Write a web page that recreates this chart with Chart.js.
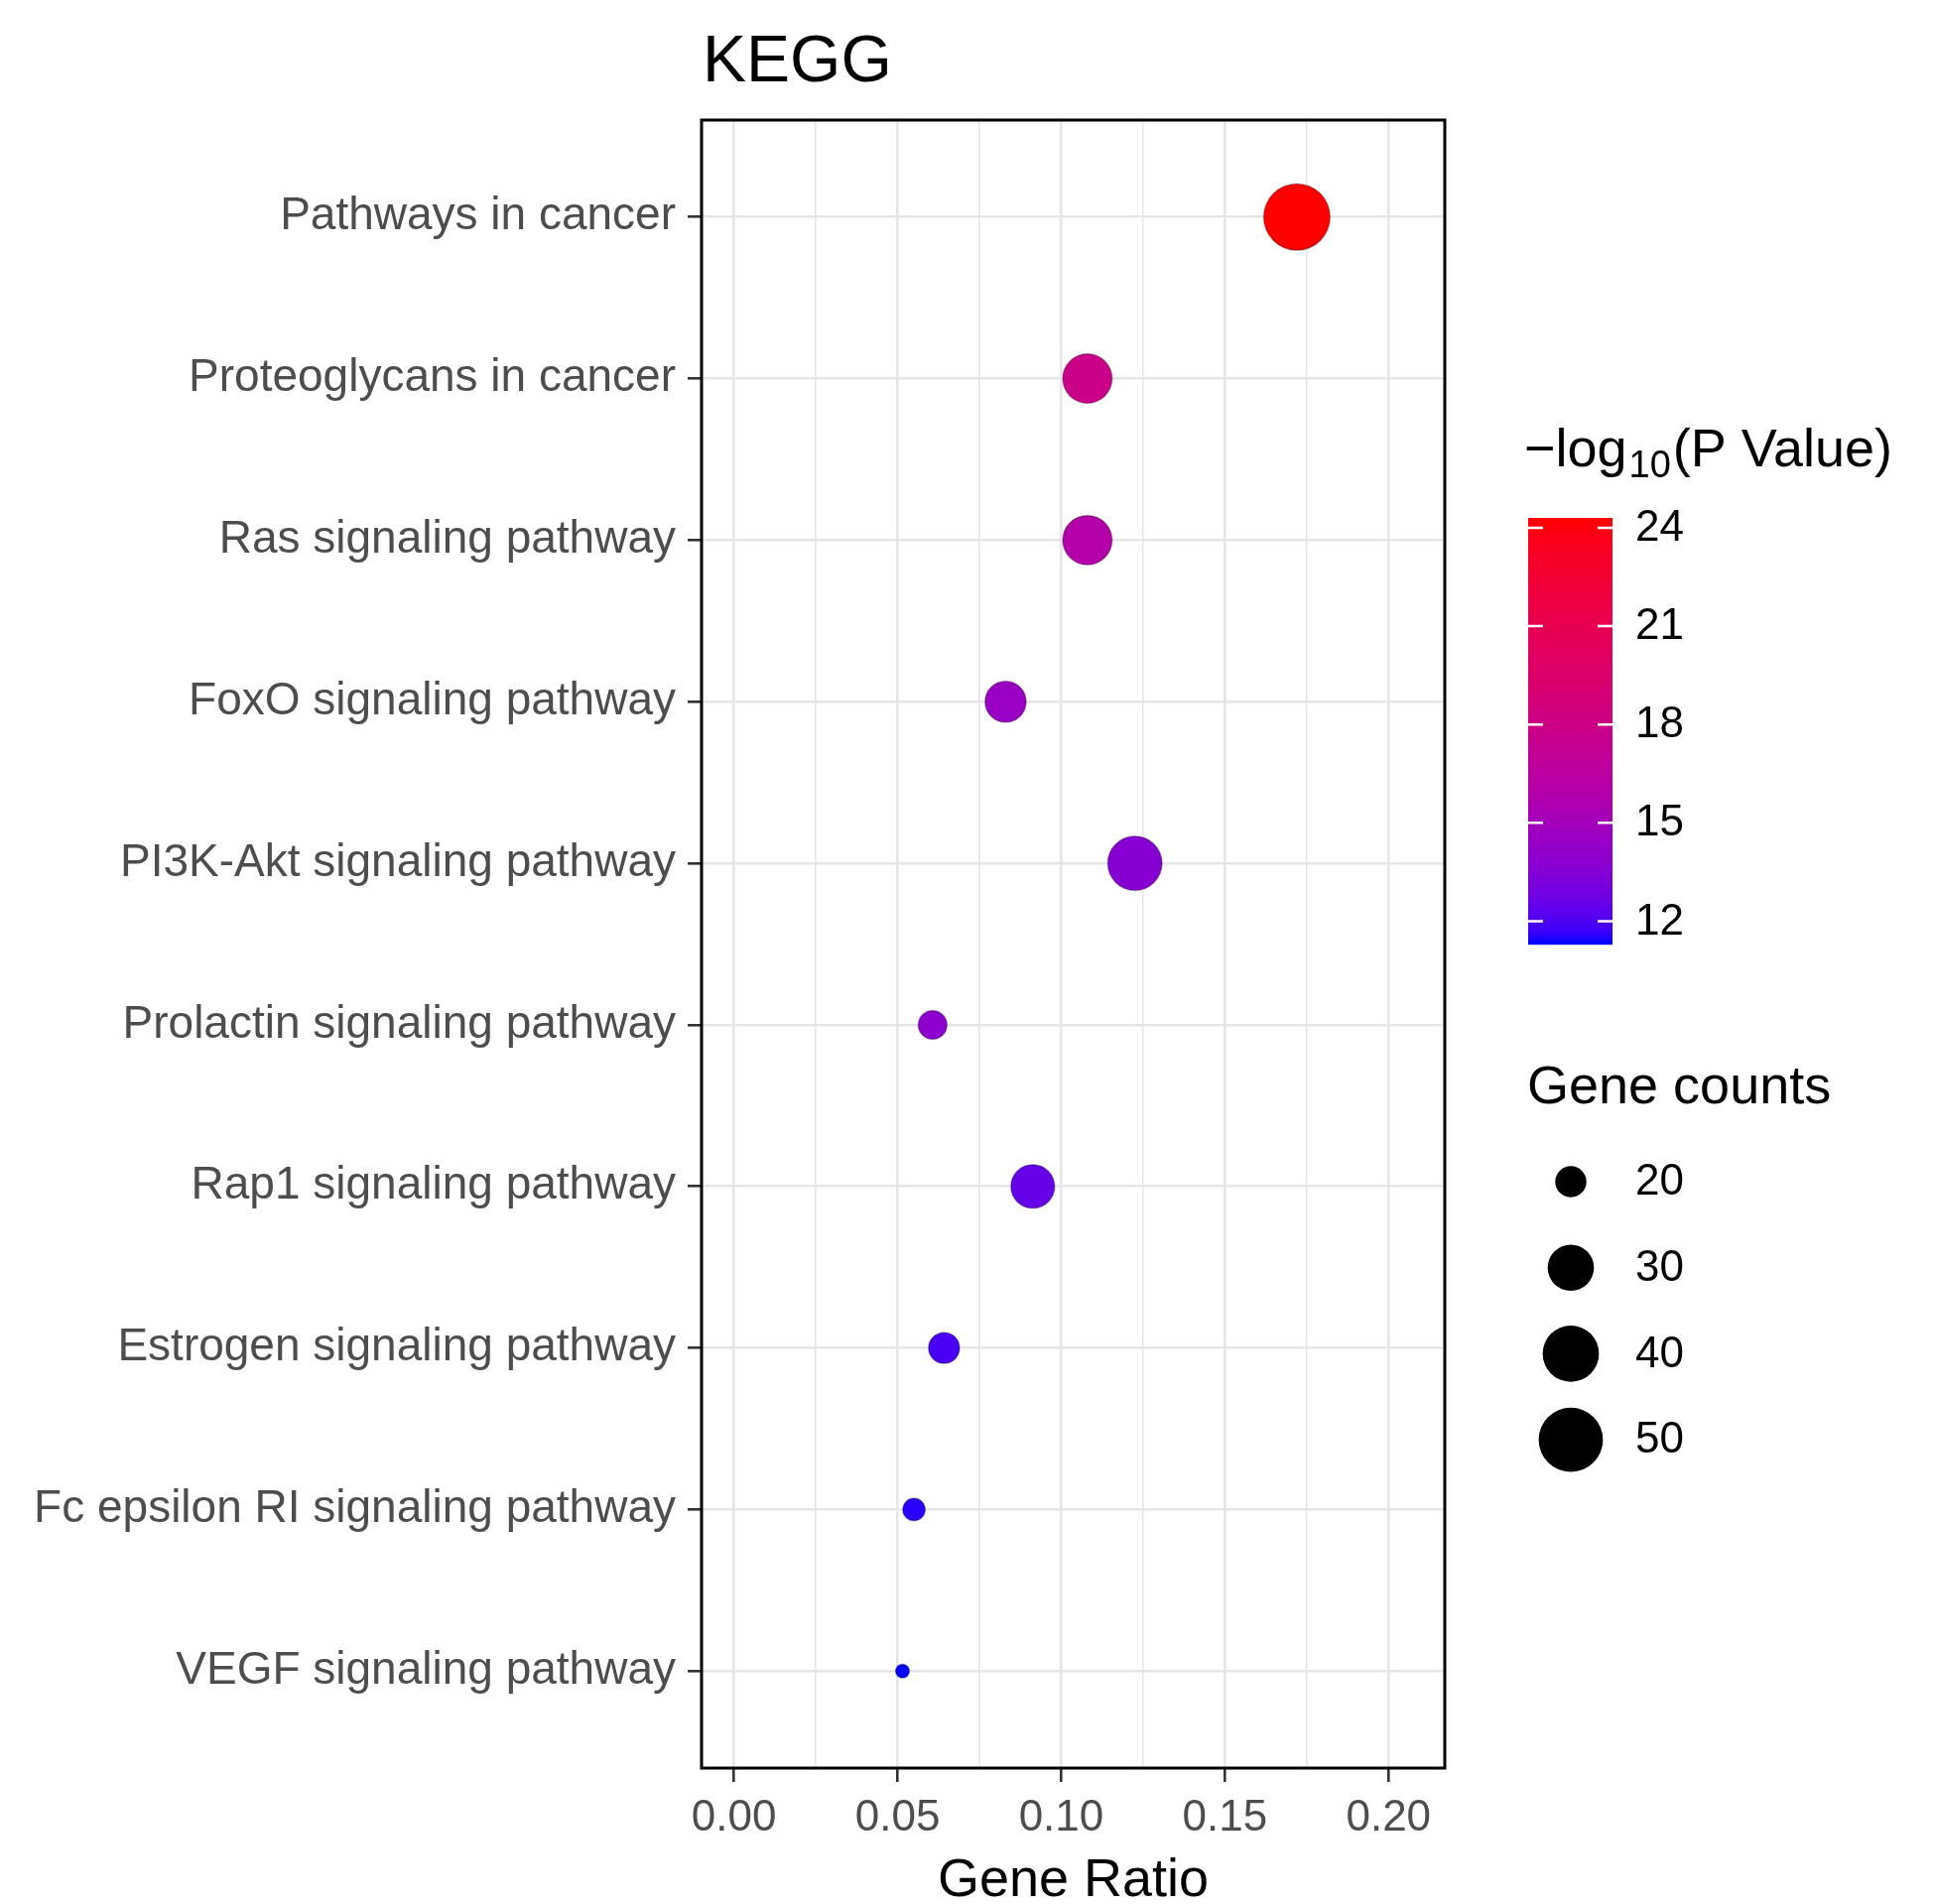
<!DOCTYPE html>
<html lang="en">
<head>
<meta charset="UTF-8">
<title>KEGG</title>
<script src="https://cdn.jsdelivr.net/npm/chart.js@4.4.1/dist/chart.umd.min.js"></script>
<style>
  body { margin: 0; background: #fff; }
  canvas { display: block; }
</style>
</head>
<body>
<canvas id="kegg" width="1949" height="1919"></canvas>
<script>
// pathways, listed top to bottom
const pathways = [
  'Pathways in cancer',
  'Proteoglycans in cancer',
  'Ras signaling pathway',
  'FoxO signaling pathway',
  'PI3K-Akt signaling pathway',
  'Prolactin signaling pathway',
  'Rap1 signaling pathway',
  'Estrogen signaling pathway',
  'Fc epsilon RI signaling pathway',
  'VEGF signaling pathway'
];
const geneRatio  = [0.172, 0.108, 0.108, 0.083, 0.1225, 0.0607, 0.0913, 0.0642, 0.055, 0.0515];
const geneCounts = [53, 33, 33, 26, 38, 19, 28, 20, 17, 16];
const logP       = [24.3, 17.8, 16.0, 14.5, 13.6, 13.9, 12.5, 11.9, 11.5, 11.28];

const ratioTicks = [0, 0.05, 0.10, 0.15, 0.20];
const colorTicks = [12, 15, 18, 21, 24];
const sizeBreaks = [20, 30, 40, 50];

const FONT = '"Liberation Sans", Arial, Helvetica, sans-serif';

// colour scale: blue -> red, interpolated in Lab like ggplot does
function toLab([r, g, b]) {
  const lin = c => { c /= 255; return c <= 0.04045 ? c / 12.92 : Math.pow((c + 0.055) / 1.055, 2.4); };
  const R = lin(r), G = lin(g), B = lin(b);
  const X = (0.4124 * R + 0.3576 * G + 0.1805 * B) / 0.95047;
  const Y = 0.2126 * R + 0.7152 * G + 0.0722 * B;
  const Z = (0.0193 * R + 0.1192 * G + 0.9505 * B) / 1.08883;
  const f = t => t > 0.008856 ? Math.cbrt(t) : 7.787 * t + 16 / 116;
  return [116 * f(Y) - 16, 500 * (f(X) - f(Y)), 200 * (f(Y) - f(Z))];
}
function fromLab([L, a, bb]) {
  const fy = (L + 16) / 116, fx = fy + a / 500, fz = fy - bb / 200;
  const inv = t => t * t * t > 0.008856 ? t * t * t : (t - 16 / 116) / 7.787;
  const X = inv(fx) * 0.95047, Y = inv(fy), Z = inv(fz) * 1.08883;
  const R = 3.2406 * X - 1.5372 * Y - 0.4986 * Z;
  const G = -0.9689 * X + 1.8758 * Y + 0.0415 * Z;
  const B = 0.0557 * X - 0.2040 * Y + 1.0570 * Z;
  const gam = c => {
    c = Math.max(0, Math.min(1, c));
    return Math.round(255 * (c <= 0.0031308 ? 12.92 * c : 1.055 * Math.pow(c, 1 / 2.4) - 0.055));
  };
  return 'rgb(' + gam(R) + ',' + gam(G) + ',' + gam(B) + ')';
}
const LOW = toLab([0, 0, 255]);
const HIGH = toLab([255, 0, 0]);
const pMin = Math.min(...logP), pMax = Math.max(...logP);
function colourFor(v) {
  const t = (v - pMin) / (pMax - pMin);
  return fromLab(LOW.map((c, i) => c + (HIGH[i] - c) * t));
}

// size scale (area-like)
const cMin = Math.min(...geneCounts), cMax = Math.max(...geneCounts);
function radiusFor(c) {
  return 7 + 26.5 * Math.sqrt(Math.max(0, c - cMin) / (cMax - cMin));
}

const isMajor = v => ratioTicks.some(t => Math.abs(t - v) < 1e-9);

const points = pathways.map((p, i) => ({ x: geneRatio[i], y: i }));

// frame, title and both legends
const decorations = {
  id: 'decorations',
  afterDraw(chart) {
    const ctx = chart.ctx;
    const a = chart.chartArea;
    ctx.save();

    // panel border
    ctx.strokeStyle = '#000';
    ctx.lineWidth = 3;
    ctx.strokeRect(a.left, a.top, a.right - a.left, a.bottom - a.top);

    // title
    ctx.fillStyle = '#000';
    ctx.textAlign = 'left';
    ctx.textBaseline = 'alphabetic';
    ctx.font = '66px ' + FONT;
    ctx.fillText('KEGG', a.left + 1, 82);

    // colour legend title
    let x = 1536;
    ctx.font = '54px ' + FONT;
    ctx.fillText('\u2212log', x, 470);
    x += ctx.measureText('\u2212log').width + 2;
    ctx.font = '38px ' + FONT;
    ctx.fillText('10', x, 481);
    x += ctx.measureText('10').width + 2;
    ctx.font = '54px ' + FONT;
    ctx.fillText('(P Value)', x, 470);

    // colour bar
    const barL = 1540, barW = 85, barTop = 522, perUnit = 33.04;
    const barBottom = barTop + (pMax - pMin) * perUnit;
    const grad = ctx.createLinearGradient(0, barTop, 0, barBottom);
    for (let k = 0; k <= 30; k++) {
      grad.addColorStop(k / 30, colourFor(pMax - (k / 30) * (pMax - pMin)));
    }
    ctx.fillStyle = grad;
    ctx.fillRect(barL, barTop, barW, barBottom - barTop);

    ctx.strokeStyle = '#fff';
    ctx.lineWidth = 2.5;
    ctx.font = '44px ' + FONT;
    ctx.fillStyle = '#000';
    ctx.textBaseline = 'middle';
    colorTicks.forEach(v => {
      const y = barTop + (pMax - v) * perUnit;
      ctx.beginPath();
      ctx.moveTo(barL, y); ctx.lineTo(barL + 15, y);
      ctx.moveTo(barL + barW - 15, y); ctx.lineTo(barL + barW, y);
      ctx.stroke();
      ctx.fillText(String(v), 1648, y + 1);
    });

    // size legend
    ctx.textBaseline = 'alphabetic';
    ctx.font = '54px ' + FONT;
    ctx.fillText('Gene counts', 1539, 1112);
    ctx.font = '44px ' + FONT;
    ctx.textBaseline = 'middle';
    sizeBreaks.forEach((c, k) => {
      const y = 1191 + k * 86.7;
      ctx.beginPath();
      ctx.arc(1583, y, radiusFor(c), 0, Math.PI * 2);
      ctx.fillStyle = '#000';
      ctx.fill();
      ctx.fillText(String(c), 1648, y + 1);
    });

    ctx.restore();
  }
};

new Chart(document.getElementById('kegg'), {
  type: 'scatter',
  data: {
    datasets: [{
      data: points,
      pointRadius: ctx => radiusFor(geneCounts[ctx.dataIndex]),
      pointHoverRadius: ctx => radiusFor(geneCounts[ctx.dataIndex]),
      pointBackgroundColor: ctx => colourFor(logP[ctx.dataIndex]),
      pointBorderColor: 'rgba(0,0,0,0.25)',
      pointBorderWidth: 1.5
    }]
  },
  options: {
    responsive: false,
    animation: false,
    devicePixelRatio: 1,
    layout: { padding: { left: 0, top: 121, right: 493, bottom: 0 } },
    plugins: {
      legend: { display: false },
      tooltip: { enabled: false },
      title: { display: false }
    },
    scales: {
      x: {
        type: 'linear',
        min: -0.0099,
        max: 0.2172,
        afterFit: s => { s.height = 137; },
        afterBuildTicks: s => {
          const t = [];
          for (let i = 0; i < ratioTicks.length; i++) {
            t.push({ value: ratioTicks[i] });
            if (i < ratioTicks.length - 1) t.push({ value: (ratioTicks[i] + ratioTicks[i + 1]) / 2 });
          }
          s.ticks = t;
        },
        border: { display: false },
        grid: {
          color: '#E6E6E6',
          lineWidth: c => (c.tick && isMajor(c.tick.value)) ? 2.6 : 1.6,
          drawTicks: true,
          tickLength: 14,
          tickWidth: 2.6,
          tickColor: c => (c.tick && isMajor(c.tick.value)) ? '#333333' : 'rgba(0,0,0,0)'
        },
        ticks: {
          autoSkip: false,
          maxRotation: 0,
          padding: 10,
          color: '#4D4D4D',
          font: { family: FONT, size: 44 },
          callback: v => isMajor(v) ? v.toFixed(2) : ''
        },
        title: {
          display: true,
          text: 'Gene Ratio',
          color: '#000',
          font: { family: FONT, size: 54, lineHeight: 0.6 },
          padding: { top: 0, bottom: 7 }
        }
      },
      y: {
        type: 'linear',
        min: -0.6,
        max: 9.6,
        reverse: true,
        afterFit: s => { s.width = 707; },
        afterBuildTicks: s => { s.ticks = pathways.map((p, i) => ({ value: i })); },
        border: { display: false },
        grid: {
          color: '#E6E6E6',
          lineWidth: 2.6,
          drawTicks: true,
          tickLength: 14,
          tickWidth: 2.6,
          tickColor: '#333333'
        },
        ticks: {
          autoSkip: false,
          padding: 12,
          color: '#4D4D4D',
          font: { family: FONT, size: 46 },
          callback: v => pathways[v]
        }
      }
    }
  },
  plugins: [decorations]
});
</script>
</body>
</html>
